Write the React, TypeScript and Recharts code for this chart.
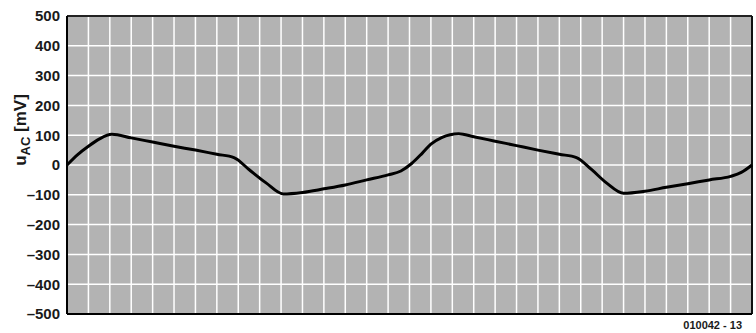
import React from 'react';
import {
  LineChart, Line, XAxis, YAxis, CartesianGrid, ReferenceLine,
} from 'recharts';

// time axis: 32 grid divisions, value in mV
const TIME = [
  0, 0.5, 1, 1.5, 2.1, 3, 4, 5, 6, 7, 7.8, 8.5, 9.3, 10.1, 11, 12, 13, 14, 15, 15.6,
  16.1, 16.6, 17.0, 17.5, 18.3, 19, 20, 21, 22, 23, 23.8, 24.5, 25.2, 26, 27, 28, 29, 30, 31, 31.5, 32,
];
const U_AC = [
  0, 35, 63, 87, 103, 91, 77, 63, 50, 36, 25, -15, -60, -97, -92, -80, -67, -50, -33, -20,
  5, 40, 70, 92, 105, 95, 80, 65, 50, 36, 25, -15, -60, -95, -88, -75, -63, -50, -38, -25, 0,
];
const Y_TICKS = [-500, -400, -300, -200, -100, 0, 100, 200, 300, 400, 500];
const X_TICKS = Array.from({ length: 33 }, (_, i) => i);
const FIG_ID = '010042 - 13';

const data = TIME.map((t, i) => ({ t, u: U_AC[i] }));

const FONT = '"Liberation Sans", Arial, Helvetica, sans-serif';

const NoTick = () => <g />;

export default function App() {
  return (
    <div style={{ position: 'absolute', left: 0, top: 0, width: 756, height: 333, background: '#fff' }}>
      <LineChart width={756} height={333} data={data} margin={{ top: 16, right: 4, left: 0, bottom: 0 }}>
        <CartesianGrid fill="#b3b3b3" fillOpacity={1} stroke="#ffffff" strokeWidth={1.5} />
        <XAxis
          dataKey="t"
          type="number"
          domain={[0, 32]}
          ticks={X_TICKS}
          interval={0}
          tick={<NoTick />}
          tickLine={false}
          height={19}
          axisLine={{ stroke: '#000', strokeWidth: 2 }}
        />
        <YAxis
          type="number"
          domain={[-500, 500]}
          ticks={Y_TICKS}
          width={67}
          tickLine={false}
          tickSize={0}
          tickMargin={7}
          interval={0}
          axisLine={{ stroke: '#000', strokeWidth: 2 }}
          tickFormatter={(v: number) => String(v).replace('-', '–')}
          tick={{ fontFamily: FONT, fontSize: 15, fontWeight: 'bold', fill: '#1a1a1a' }}
        />
        <ReferenceLine y={500} stroke="#222" strokeWidth={2} ifOverflow="visible" />
        <ReferenceLine x={32} stroke="#111" strokeWidth={2} ifOverflow="visible" />
        <Line
          type="monotone"
          dataKey="u"
          stroke="#000"
          strokeWidth={3}
          dot={false}
          isAnimationActive={false}
        />
      </LineChart>
      <svg width={756} height={333} style={{ position: 'absolute', left: 0, top: 0, pointerEvents: 'none' }}>
        <text
          transform="translate(26,130) rotate(-90)"
          textAnchor="middle"
          fontFamily={FONT}
          fontWeight="bold"
          fontSize={17}
          fill="#1a1a1a"
        >
          u<tspan fontSize={13} dy={4}>AC</tspan>
          <tspan dy={-4}> [mV]</tspan>
        </text>
        <text x={742} y={329} textAnchor="end" fontFamily={FONT} fontWeight="bold" fontSize={11} fill="#1a1a1a">
          {FIG_ID}
        </text>
      </svg>
    </div>
  );
}
